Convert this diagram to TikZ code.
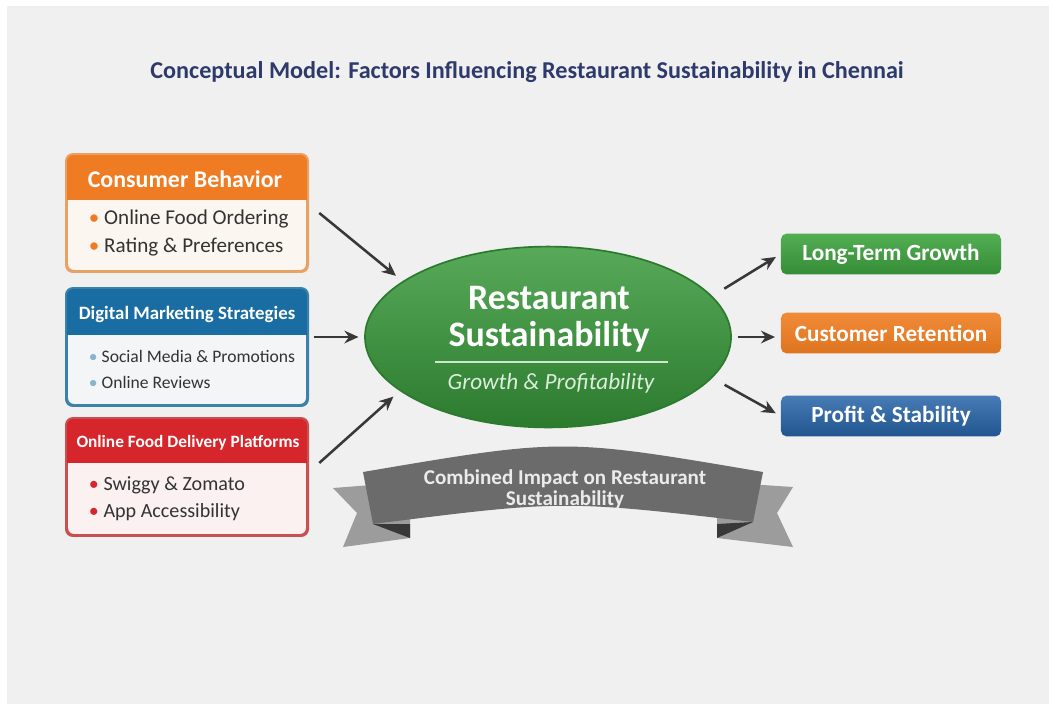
\documentclass[tikz,border=0pt]{standalone}
\usepackage{fontspec}
\setmainfont{Carlito}
\usepackage{tikz}
\usetikzlibrary{arrows.meta, calc, positioning, shapes.geometric}

\definecolor{bggray}{HTML}{F0F0F0}
\definecolor{titleblue}{HTML}{2E3A6B}
\definecolor{cborange}{HTML}{EF7B22}
\definecolor{cbborder}{HTML}{E9A265}
\definecolor{cbfill}{HTML}{FBF6F0}
\definecolor{dmblue}{HTML}{1A6DA2}
\definecolor{dmborder}{HTML}{3A82AA}
\definecolor{dmfill}{HTML}{F3F5F6}
\definecolor{fdred}{HTML}{D6262B}
\definecolor{fdborder}{HTML}{C8504F}
\definecolor{fdfill}{HTML}{FBF1F1}
\definecolor{susgreen}{HTML}{3A9B3C}
\definecolor{susdark}{HTML}{2C7A2E}
\definecolor{outgreen}{HTML}{3FA540}
\definecolor{outorange}{HTML}{F07E22}
\definecolor{outblue}{HTML}{2764A8}
\definecolor{bodytext}{HTML}{333333}
\definecolor{arrowgray}{HTML}{383838}

\begin{document}
\begin{tikzpicture}[x=0.025cm, y=-0.025cm,
	factor/.style={draw, line width=1.4pt, rounded corners=5pt, minimum width=6cm, minimum height=2.9cm},
	headtext/.style={text=white, font=\bfseries},
	items/.style={text=bodytext, align=left, anchor=west},
	outcome/.style={rounded corners=4pt, minimum width=5.5cm, minimum height=1.02cm, text=white, font=\fontsize{16.5}{18}\selectfont\bfseries},
	arr/.style={draw=arrowgray, line width=1.8pt, -{Stealth[length=10pt, width=9pt]}}]

	\useasboundingbox (0,0) rectangle (1049,704);
	\fill[white] (0,0) rectangle (1049,704);
	\fill[bggray] (7,6) rectangle (1049,704);

	\node[text=titleblue, font=\fontsize{17.2}{20}\selectfont\bfseries] (title) at (527,72)
		{Conceptual Model: Factors Influencing Restaurant Sustainability in Chennai};

	% consumer behavior
	\node[factor, draw=cbborder, fill=cbfill] (cb) at (187,213) {};
	\begin{scope}
		\clip[rounded corners=5pt] (cb.north west) rectangle (cb.south east);
		\fill[cborange] (cb.north west) rectangle (cb.east |- 0,200);
	\end{scope}
	\draw[cbborder, line width=1.4pt, rounded corners=5pt] (cb.north west) rectangle (cb.south east);
	\node[headtext, font=\fontsize{17}{19}\selectfont\bfseries] (cbtitle) at (185,179) {Consumer Behavior};
	\node[items, font=\fontsize{15}{20}\selectfont] (cbitems) at (84,233)
		{{\color{cborange}\textbullet} Online Food Ordering\\{\color{cborange}\textbullet} Rating \& Preferences};

	% digital marketing
	\node[factor, draw=dmborder, fill=dmfill] (dm) at (187,347) {};
	\begin{scope}
		\clip[rounded corners=5pt] (dm.north west) rectangle (dm.south east);
		\fill[dmblue] (dm.north west) rectangle (dm.east |- 0,335);
	\end{scope}
	\draw[dmborder, line width=1.4pt, rounded corners=5pt] (dm.north west) rectangle (dm.south east);
	\node[headtext, font=\fontsize{13.4}{15}\selectfont\bfseries] (dmtitle) at (187,314) {Digital Marketing Strategies};
	\node[items, font=\fontsize{12.5}{18.5}\selectfont] (dmitems) at (84,369)
		{{\color{dmborder!60}\textbullet} Social Media \& Promotions\\{\color{dmborder!60}\textbullet} Online Reviews};

	% delivery platforms
	\node[factor, draw=fdborder, fill=fdfill] (fd) at (187,477) {};
	\begin{scope}
		\clip[rounded corners=5pt] (fd.north west) rectangle (fd.south east);
		\fill[fdred] (fd.north west) rectangle (fd.east |- 0,463);
	\end{scope}
	\draw[fdborder, line width=1.4pt, rounded corners=5pt] (fd.north west) rectangle (fd.south east);
	\node[headtext, font=\fontsize{12.3}{14}\selectfont\bfseries] (fdtitle) at (188,443) {Online Food Delivery Platforms};
	\node[items, font=\fontsize{14.3}{19}\selectfont] (fditems) at (84,499)
		{{\color{fdred}\textbullet} Swiggy \& Zomato\\{\color{fdred}\textbullet} App Accessibility};

	% centre
	\node[ellipse, draw=susdark, line width=1.2pt, top color=susgreen!85!white, bottom color=susdark,
		minimum width=9.15cm, minimum height=4.52cm] (sus) at (548,337) {};
	\node[text=white, align=center, font=\fontsize{25.5}{26.5}\selectfont\bfseries] (sustitle) at (549,319)
		{Restaurant\\Sustainability};
	\draw[white!75!susgreen, line width=0.8pt] (435,362) -- (668,362);
	\node[text=white!82!susgreen, font=\fontsize{16.5}{18}\selectfont\itshape] (susnote) at (551,383)
		{Growth \& Profitability};

	% outcomes
	\node[outcome, top color=outgreen!90!white, bottom color=outgreen!85!black] (ltg) at (891,254) {Long-Term Growth};
	\node[outcome, top color=outorange!90!white, bottom color=outorange!92!black] (cr) at (891,333) {Customer Retention};
	\node[outcome, top color=outblue!85!white, bottom color=outblue!85!black] (ps) at (891,416) {Profit \& Stability};

	% arrows
	\draw[arr, shorten >=6pt] ([xshift=8pt]cb.east) -- (sus.159);
	\draw[arr, shorten >=4pt] ([xshift=4pt]dm.east |- sus.west) -- (sus.west);
	\draw[arr, shorten >=6pt] ([shift={(8pt,10pt)}]fd.east) -- (sus.200);
	\draw[arr, shorten <=10pt, shorten >=4pt] (sus.14) -- (ltg.west);
	\draw[arr, shorten <=4pt, shorten >=4pt] (sus.east) -- (sus.east -| cr.west);
	\draw[arr, shorten <=10pt, shorten >=4pt] (sus.-14) -- (ps.west);

	% ribbon
	\fill[gray!78!white] (333,488) -- (410,482) -- (410,538) -- (343,547) -- (357,513) -- cycle;
	\fill[gray!78!white] (793,487) -- (717,482) -- (717,538) -- (793,547) -- (777,513) -- cycle;
	\fill[black!78] (373,524) -- (410,524) -- (410,538) -- cycle;
	\fill[black!78] (753,522) -- (717,524) -- (717,538) -- cycle;
	\fill[black!58] (363,472) .. controls (563,438) .. (763,472) -- (753,522) .. controls (563,500) .. (373,524) -- cycle;
	\node[text=white!92!black, align=center, font=\fontsize{15}{15}\selectfont\bfseries] (ribbon) at (565,489)
		{Combined Impact on Restaurant\\Sustainability};
\end{tikzpicture}
\end{document}
